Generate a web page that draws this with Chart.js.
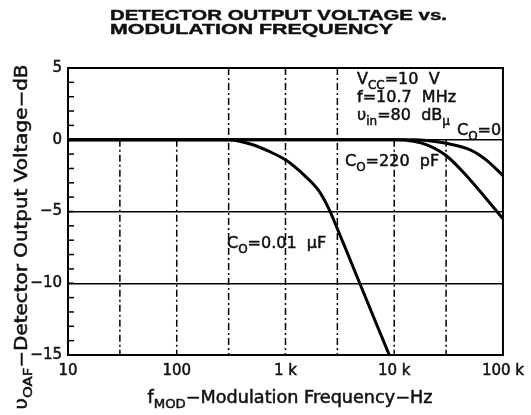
<!DOCTYPE html>
<html>
<head>
<meta charset="utf-8">
<script src="https://cdn.jsdelivr.net/npm/chart.js@4"></script>
<style>
html, body { margin: 0; padding: 0; background: #fff; }
</style>
</head>
<body>
<canvas id="grafico" width="531" height="415"></canvas>
<script>
// curve readings, frequency in Hz, output in dB
const freqC0 = [10, 15000, 20000, 30000, 50000, 70000, 100000];
const dbC0 = [0, 0, -0.05, -0.25, -0.7, -1.4, -2.5];
const freqC220p = [10, 10000, 15000, 20000, 30000, 50000, 70000, 100000];
const dbC220p = [0, 0, -0.1, -0.35, -1.1, -2.8, -4.1, -5.5];
const freqC001u = [10, 300, 500, 700, 1000, 1500, 2000, 2500, 3000, 4000, 5000, 7000, 9000];
const dbC001u = [0, 0, -0.35, -0.8, -1.4, -2.5, -3.5, -4.8, -6.2, -8.5, -10.3, -13.0, -15];

const xTickValues = [10, 100, 1000, 10000, 100000];
const xTickLabels = ['10', '100', '1 k', '10 k', '100 k'];
const xGridValues = [30, 100, 300, 1000, 3000, 10000, 30000];
const xGridTop = [0, 0, 5, 5, 5, 0, 0];   // dB where each dash-dot line starts
const yTickValues = [5, 0, -5, -10, -15];
const yTickLabels = ['5', '0', '\u22125', '\u221210', '\u221215'];
const yGridValues = [0, -5, -10];

const FONT = "'DejaVu Sans', sans-serif";
const INK = '#111';

function toPoints(xs, ys) {
    return xs.map((x, i) => ({ x: x, y: ys[i] }));
}

// text with subscripts: parts = [[text, isSub], ...]
function partsWidth(ctx, parts, size) {
    let w = 0;
    parts.forEach(p => {
        ctx.font = (p[1] ? size * 0.75 : size) + 'px ' + FONT;
        w += ctx.measureText(p[0]).width;
    });
    return w;
}

function drawParts(ctx, parts, x, y, size, fitWidth) {
    const w = partsWidth(ctx, parts, size);
    ctx.save();
    ctx.translate(x, y);
    if (fitWidth) {
        ctx.scale(fitWidth / w, 1);
        ctx.translate(-w / 2, 0);
    }
    ctx.fillStyle = INK;
    ctx.strokeStyle = INK;
    ctx.lineWidth = 0.5;
    ctx.textBaseline = 'alphabetic';
    ctx.textAlign = 'left';
    let cx = 0;
    parts.forEach(p => {
        const s = p[1] ? size * 0.75 : size;
        const dy = p[1] ? size * 0.3 : 0;
        ctx.font = s + 'px ' + FONT;
        ctx.fillText(p[0], cx, dy);
        ctx.strokeText(p[0], cx, dy);
        cx += ctx.measureText(p[0]).width;
    });
    ctx.restore();
}

function drawFitted(ctx, text, x, y, font, width) {
    ctx.save();
    ctx.font = font;
    const w = ctx.measureText(text).width;
    ctx.translate(x, y);
    ctx.scale(width / w, 1);
    ctx.fillStyle = INK;
    ctx.strokeStyle = INK;
    ctx.lineWidth = 0.4;
    ctx.textBaseline = 'alphabetic';
    ctx.fillText(text, 0, 0);
    ctx.strokeText(text, 0, 0);
    ctx.restore();
}

const decorations = {
    id: 'decorations',
    beforeDatasetsDraw(chart) {
        const ctx = chart.ctx;
        const a = chart.chartArea;
        const xs = chart.scales.x;
        const ys = chart.scales.y;
        // dash-dot frequency grid
        ctx.save();
        ctx.strokeStyle = '#000';
        ctx.lineWidth = 1.5;
        ctx.setLineDash([7, 3, 2, 3]);
        xGridValues.forEach((f, i) => {
            const px = xs.getPixelForValue(f);
            ctx.beginPath();
            ctx.moveTo(px, ys.getPixelForValue(xGridTop[i]));
            ctx.lineTo(px, a.bottom);
            ctx.stroke();
        });
        ctx.restore();
    },
    afterDraw(chart) {
        const ctx = chart.ctx;
        const a = chart.chartArea;
        const ys = chart.scales.y;

        // frame
        ctx.save();
        ctx.strokeStyle = '#000';
        ctx.lineWidth = 2;
        ctx.strokeRect(a.left, a.top, a.right - a.left, a.bottom - a.top);

        // small inward ticks every dB
        ctx.lineWidth = 1.5;
        for (let v = -15; v <= 5; v++) {
            const py = ys.getPixelForValue(v);
            ctx.beginPath();
            ctx.moveTo(a.left, py);
            ctx.lineTo(a.left + 6, py);
            ctx.stroke();
        }
        ctx.restore();

        // title
        drawFitted(ctx, 'DETECTOR OUTPUT VOLTAGE vs.', 110, 20, "bold 14px 'Liberation Sans', Arial, sans-serif", 337);
        drawFitted(ctx, 'MODULATION FREQUENCY', 110, 34, "bold 14px 'Liberation Sans', Arial, sans-serif", 283);

        // axis titles
        drawParts(ctx, [['f', 0], ['MOD', 1], ['\u2212Modulation Frequency\u2212Hz', 0]], 290, 403, 17, 285);
        ctx.save();
        ctx.translate(27, 237);
        ctx.rotate(-Math.PI / 2);
        drawParts(ctx, [['\u03c5', 0], ['OAF', 1], ['\u2212Detector Output Voltage\u2212dB', 0]], 0, 0, 17, 345);
        ctx.restore();

        // conditions and curve labels
        drawParts(ctx, [['V', 0], ['CC', 1], ['=10  V', 0]], 357, 84, 16);
        drawParts(ctx, [['f=10.7  MHz', 0]], 357, 102, 16);
        drawParts(ctx, [['\u03c5', 0], ['in', 1], ['=80  dB', 0], ['\u03bc', 1]], 357, 120, 16);
        drawParts(ctx, [['C', 0], ['O', 1], ['=0', 0]], 457, 135, 16);
        drawParts(ctx, [['C', 0], ['O', 1], ['=220  pF', 0]], 345, 166, 16);
        drawParts(ctx, [['C', 0], ['O', 1], ['=0.01  \u03bcF', 0]], 227, 248, 16);
    }
};

const curveStyle = {
    borderColor: '#000',
    borderWidth: 3,
    pointRadius: 0,
    fill: false,
    cubicInterpolationMode: 'monotone'
};

new Chart(document.getElementById('grafico').getContext('2d'), {
    type: 'line',
    data: {
        datasets: [
            Object.assign({ label: 'CO=0', data: toPoints(freqC0, dbC0) }, curveStyle),
            Object.assign({ label: 'CO=220 pF', data: toPoints(freqC220p, dbC220p) }, curveStyle),
            Object.assign({ label: 'CO=0.01 uF', data: toPoints(freqC001u, dbC001u) }, curveStyle)
        ]
    },
    options: {
        responsive: false,
        animation: false,
        devicePixelRatio: 1,
        layout: {
            padding: { top: 68, right: 23, left: 0, bottom: 0 }
        },
        scales: {
            x: {
                type: 'logarithmic',
                min: 10,
                max: 100000,
                afterBuildTicks: scale => {
                    scale.ticks = xTickValues.map(v => ({ value: v }));
                },
                afterFit: scale => { scale.height = 60; },
                ticks: {
                    autoSkip: false,
                    maxRotation: 0,
                    padding: 7,
                    color: INK,
                    textStrokeColor: INK,
                    textStrokeWidth: 0.5,
                    font: { family: FONT, size: 15 },
                    callback: value => {
                        const i = xTickValues.indexOf(value);
                        return i >= 0 ? xTickLabels[i] : '';
                    }
                },
                grid: { display: false, drawTicks: false },
                border: { display: false }
            },
            y: {
                min: -15,
                max: 5,
                afterBuildTicks: scale => {
                    scale.ticks = yTickValues.map(v => ({ value: v }));
                },
                afterFit: scale => { scale.width = 68; },
                ticks: {
                    autoSkip: false,
                    padding: 6,
                    color: INK,
                    textStrokeColor: INK,
                    textStrokeWidth: 0.5,
                    font: { family: FONT, size: 15 },
                    callback: value => {
                        const i = yTickValues.indexOf(value);
                        return i >= 0 ? yTickLabels[i] : '';
                    }
                },
                grid: {
                    drawTicks: false,
                    lineWidth: 1.5,
                    color: c => (c.tick && yGridValues.indexOf(c.tick.value) >= 0) ? '#000' : 'rgba(0,0,0,0)'
                },
                border: { display: false }
            }
        },
        plugins: {
            legend: { display: false },
            tooltip: { enabled: false }
        }
    },
    plugins: [decorations]
});
</script>
</body>
</html>
